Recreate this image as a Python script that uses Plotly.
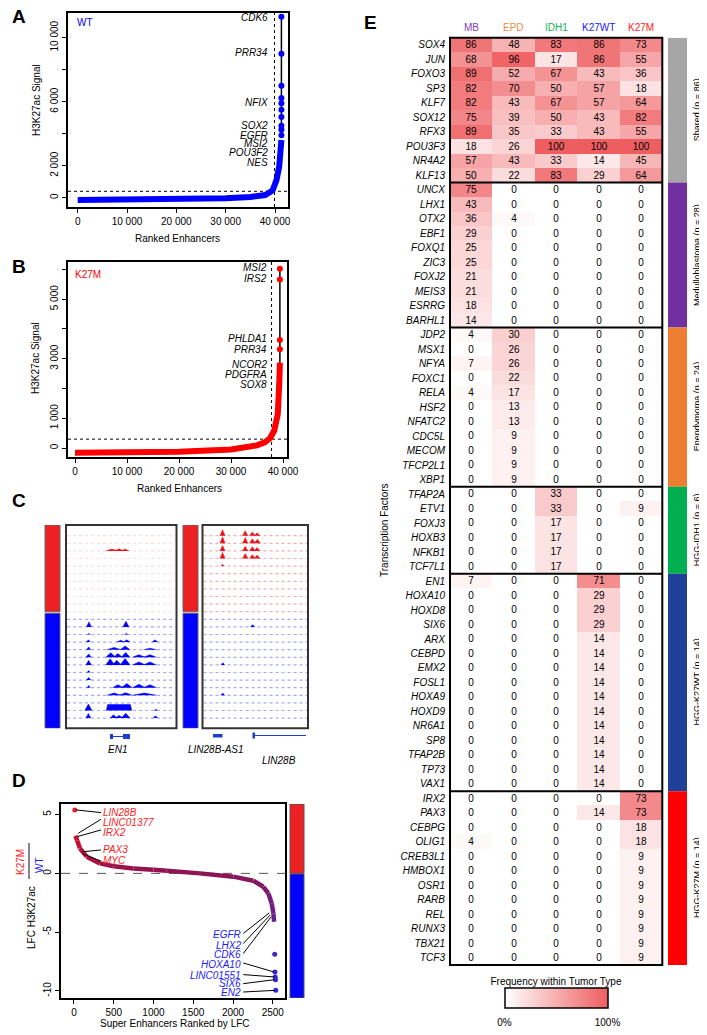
import plotly.graph_objects as go

W, H = 707, 1035
OFF = 8  # page body margin of the browser that displays the figure
FONT = "Liberation Sans, Arial, Helvetica, sans-serif"


def fx(p):
    return (p - OFF) / W


def fy(p):
    return 1 - (p - OFF) / H


# ============================ DATA ============================
# ---- Panel A : WT ranked enhancers
a_rank = [0, 10000, 20000, 30000, 35000, 38000, 39500, 40300, 40850, 41200, 41300]
a_signal = [-150, -130, -100, -40, 40, 170, 450, 1100, 1950, 3200, 3600]
a_top_rank = [41300, 41300, 41300, 41300, 41300, 41300, 41300, 41300, 41300, 41300]
a_top_signal = [3900, 4250, 4500, 5050, 5500, 5900, 6230, 7000, 9000, 11300]
a_genes = ["CDK6", "PRR34", "NFIX", "SOX2", "EGFR", "MSI2", "POU3F2", "NES"]
a_cutoff_rank = 39900
a_cutoff_signal = 400

# ---- Panel B : K27M ranked enhancers
b_rank = [0, 10000, 20000, 30000, 35000, 36500, 37500, 38300, 39000, 39300, 39400]
b_signal = [-160, -150, -125, -45, 90, 190, 330, 580, 1140, 2270, 2870]
b_top_rank = [39400, 39400, 39400, 39400]
b_top_signal = [3320, 3630, 5660, 6020]
b_genes = ["MSI2", "IRS2", "PHLDA1", "PRR34", "NCOR2", "PDGFRA", "SOX8"]
b_cutoff_rank = 37800
b_cutoff_signal = 300

# ---- Panel C : browser tracks (11 K27M tracks, 14 WT tracks)
c_track_group = ["K27M"] * 11 + ["WT"] * 14
# peaks: (track, start, end, height) ; x in locus %, height in track units
c_en1_peaks = [
    (2, 36, 47, 0.25), (2, 44, 52, 0.3), (2, 50, 57, 0.25),
    (12, 18.5, 23, 0.65), (12, 51.5, 57, 0.75),
    (13, 19.5, 22, 0.15), (13, 53, 56, 0.15),
    (14, 18.5, 22, 0.3), (14, 46, 53, 0.25), (14, 52, 58, 0.3), (14, 78, 83, 0.3),
    (15, 18.5, 22.5, 0.35), (15, 37, 50, 0.3), (15, 49, 58, 0.5), (15, 70, 82, 0.2),
    (16, 18, 23, 0.45), (16, 36, 45, 0.6), (16, 43, 51, 0.5), (16, 50, 58, 0.65),
    (16, 60, 72, 0.35), (16, 70, 82, 0.35),
    (17, 18, 23, 0.6), (17, 36, 44, 0.8), (17, 42, 50, 0.6), (17, 49, 58, 0.85),
    (17, 60, 72, 0.4), (17, 70, 82, 0.4),
    (18, 19, 22, 0.25),
    (19, 18.5, 22.5, 0.35),
    (20, 19, 22, 0.3), (20, 42, 52, 0.4), (20, 50, 60, 0.55), (20, 60, 72, 0.45), (20, 70, 82, 0.4),
    (21, 37, 50, 0.3), (21, 48, 60, 0.35), (21, 60, 82, 0.3),
    (23, 17, 23.5, 0.85), (23, 80, 83, 0.2),
    (24, 18, 22.5, 0.6), (24, 40, 46, 0.45), (24, 44, 52, 0.35), (24, 50, 58, 0.65), (24, 79, 83, 0.3),
]
c_en1_blocks = [(23, 36.5, 59.5, 0.8)]
c_lin28b_peaks = [
    (0, 16.5, 21.5, 0.8), (0, 38, 43, 0.65), (0, 44.5, 50, 0.5), (0, 49, 54.5, 0.4),
    (1, 16.5, 21.5, 0.85), (1, 38, 43, 0.75), (1, 44.5, 50, 0.6), (1, 49, 55, 0.55),
    (2, 16.5, 21.5, 0.7), (2, 38, 43, 0.6), (2, 44.5, 50, 0.55), (2, 49, 54.5, 0.45),
    (3, 16.5, 21.5, 0.8), (3, 38, 43, 0.65), (3, 44.5, 50, 0.5), (3, 49, 54.5, 0.45),
    (4, 17.5, 20.5, 0.25),
    (12, 45.5, 49.5, 0.3), (17, 17.5, 21, 0.3), (21, 17.5, 21, 0.3),
]
c_lin28b_blocks = []
c_gene_labels = ["EN1", "LIN28B-AS1", "LIN28B"]

# ---- Panel D : super-enhancers ranked by LFC
d_rank = [20, 40, 75, 160, 327, 500, 746, 1000, 1166, 1585, 2004, 2256, 2382, 2445, 2487, 2508, 2517]
d_lfc = [3.2, 2.8, 2.13, 1.42, 0.85, 0.6, 0.42, 0.3, 0.22, 0.0, -0.28, -0.63, -1.14, -1.7, -2.56, -3.4, -4.12]
d_top_rank = [10]
d_top_lfc = [5.4]
d_low_rank = [2525, 2528, 2531, 2534, 2537]
d_low_lfc = [-6.88, -8.39, -8.81, -9.04, -9.95]
d_up_genes = ["LIN28B", "LINC01377", "IRX2", "PAX3", "MYC"]
d_up_gene_rank = [10, 42, 25, 97, 97]
d_up_gene_lfc = [5.4, 3.41, 3.12, 1.84, 1.65]
d_down_genes = ["EGFR", "LHX2", "CDK6", "HOXA10", "LINC01551", "SIX6", "EN2"]
d_down_gene_rank = [2465, 2474, 2487, 2525, 2528, 2531, 2537]
d_down_gene_lfc = [-3.36, -3.55, -3.7, -8.39, -8.81, -9.04, -9.95]

# ---- Panel E : TF frequency heatmap
e_tumor_types = ["MB", "EPD", "IDH1", "K27WT", "K27M"]
e_groups = ["Shared (n = 86)", "Medulloblastoma (n = 28)", "Ependymoma (n = 24)",
            "HGG-IDH1 (n = 6)", "HGG-K27WT (n = 14)", "HGG-K27M (n = 14)"]
e_group_sizes = [10, 10, 11, 6, 15, 12]
e_tfs = ["SOX4", "JUN", "FOXO3", "SP3", "KLF7", "SOX12", "RFX3", "POU3F3", "NR4A2", "KLF13",
         "UNCX", "LHX1", "OTX2", "EBF1", "FOXQ1", "ZIC3", "FOXJ2", "MEIS3", "ESRRG", "BARHL1",
         "JDP2", "MSX1", "NFYA", "FOXC1", "RELA", "HSF2", "NFATC2", "CDC5L", "MECOM", "TFCP2L1", "XBP1",
         "TFAP2A", "ETV1", "FOXJ3", "HOXB3", "NFKB1", "TCF7L1",
         "EN1", "HOXA10", "HOXD8", "SIX6", "ARX", "CEBPD", "EMX2", "FOSL1", "HOXA9", "HOXD9",
         "NR6A1", "SP8", "TFAP2B", "TP73", "VAX1",
         "IRX2", "PAX3", "CEBPG", "OLIG1", "CREB3L1", "HMBOX1", "OSR1", "RARB", "REL", "RUNX3", "TBX21", "TCF3"]
e_mb = [86, 68, 89, 82, 82, 75, 89, 18, 57, 50,
        75, 43, 36, 29, 25, 25, 21, 21, 18, 14,
        4, 0, 7, 0, 4, 0, 0, 0, 0, 0, 0,
        0, 0, 0, 0, 0, 0,
        7, 0, 0, 0, 0, 0, 0, 0, 0, 0, 0, 0, 0, 0, 0,
        0, 0, 0, 4, 0, 0, 0, 0, 0, 0, 0, 0]
e_epd = [48, 96, 52, 70, 43, 39, 35, 26, 43, 22,
         0, 0, 4, 0, 0, 0, 0, 0, 0, 0,
         30, 26, 26, 22, 17, 13, 13, 9, 9, 9, 9,
         0, 0, 0, 0, 0, 0,
         0, 0, 0, 0, 0, 0, 0, 0, 0, 0, 0, 0, 0, 0, 0,
         0, 0, 0, 0, 0, 0, 0, 0, 0, 0, 0, 0]
e_idh1 = [83, 17, 67, 50, 67, 50, 33, 100, 33, 83,
          0, 0, 0, 0, 0, 0, 0, 0, 0, 0,
          0, 0, 0, 0, 0, 0, 0, 0, 0, 0, 0,
          33, 33, 17, 17, 17, 17,
          0, 0, 0, 0, 0, 0, 0, 0, 0, 0, 0, 0, 0, 0, 0,
          0, 0, 0, 0, 0, 0, 0, 0, 0, 0, 0, 0]
e_k27wt = [86, 86, 43, 57, 57, 43, 43, 100, 14, 29,
           0, 0, 0, 0, 0, 0, 0, 0, 0, 0,
           0, 0, 0, 0, 0, 0, 0, 0, 0, 0, 0,
           0, 0, 0, 0, 0, 0,
           71, 29, 29, 29, 14, 14, 14, 14, 14, 14, 14, 14, 14, 14, 14,
           0, 14, 0, 0, 0, 0, 0, 0, 0, 0, 0, 0]
e_k27m = [73, 55, 36, 18, 64, 82, 55, 100, 45, 64,
          0, 0, 0, 0, 0, 0, 0, 0, 0, 0,
          0, 0, 0, 0, 0, 0, 0, 0, 0, 0, 0,
          0, 9, 0, 0, 0, 0,
          0, 0, 0, 0, 0, 0, 0, 0, 0, 0, 0, 0, 0, 0, 0,
          73, 73, 18, 18, 9, 9, 9, 9, 9, 9, 9, 9]

# ============================ STYLE ============================
BLUE = "#0000ff"
RED = "#ff0000"
TRACK_RED = "#e8161c"
TRACK_BLUE = "#0000ff"
header_colors = ["#8040c0", "#f08c48", "#20b050", "#2020ff", "#ff2020"]
group_colors = ["#a6a6a6", "#7030a0", "#ed7d31", "#00b050", "#203f99", "#ff0000"]
d_color_stops = [(-10.0, (40, 40, 225)), (-4.0, (105, 30, 150)), (-1.5, (125, 25, 110)),
                 (0.0, (140, 20, 85)), (1.5, (180, 15, 60)), (3.0, (205, 15, 45)), (5.5, (235, 25, 35))]


def d_color(v):
    if v <= d_color_stops[0][0]:
        c = d_color_stops[0][1]
    elif v >= d_color_stops[-1][0]:
        c = d_color_stops[-1][1]
    else:
        for (v0, c0), (v1, c1) in zip(d_color_stops[:-1], d_color_stops[1:]):
            if v0 <= v <= v1:
                t = (v - v0) / (v1 - v0)
                c = tuple(c0[k] + (c1[k] - c0[k]) * t for k in range(3))
                break
    return "rgb(%d,%d,%d)" % tuple(int(round(x)) for x in c)


fig = go.Figure()
annotations = []
shapes = []


def ann(**kw):
    kw.setdefault("showarrow", False)
    kw.setdefault("xanchor", "center")
    kw.setdefault("yanchor", "middle")
    kw.setdefault("font", dict(family=FONT, size=10, color="black"))
    annotations.append(kw)


def pann(text, x, y, **kw):
    ann(text=text, x=fx(x), y=fy(y), xref="paper", yref="paper", **kw)


AX_COMMON = dict(showgrid=False, zeroline=False, showline=True, mirror=True, linecolor="black",
                 linewidth=1.5, ticks="outside", ticklen=4, tickwidth=1, tickcolor="black",
                 automargin=False, tickfont=dict(family=FONT, size=10, color="black"))
HIDDEN = dict(visible=False, showgrid=False, zeroline=False, automargin=False)

# ---------------- Panel A ----------------
fig.add_trace(go.Scatter(x=a_rank, y=a_signal, mode="lines", line=dict(color=BLUE, width=6),
                         xaxis="x", yaxis="y", hoverinfo="skip"))
fig.add_trace(go.Scatter(x=a_top_rank, y=a_top_signal, mode="lines+markers",
                         line=dict(color="black", width=1.5), marker=dict(color=BLUE, size=6),
                         xaxis="x", yaxis="y", hoverinfo="skip"))
a_label_y = [11230, 9080, 5920, 4500, 3875, 3375, 2830, 2170]
for g, yv in zip(a_genes, a_label_y):
    ann(x=38950, y=yv, xref="x", yref="y", text="<i>%s</i>" % g, xanchor="right")
pann("WT", 75, 23, xanchor="left", font=dict(family=FONT, size=10, color=BLUE))
shapes.append(dict(type="line", xref="x", yref="y domain", x0=a_cutoff_rank, x1=a_cutoff_rank, y0=0, y1=1,
                   line=dict(color="black", width=1, dash="dot"), layer="below"))
shapes.append(dict(type="line", xref="x domain", yref="y", x0=0, x1=1, y0=a_cutoff_signal, y1=a_cutoff_signal,
                   line=dict(color="black", width=1, dash="dot"), layer="below"))

# ---------------- Panel B ----------------
fig.add_trace(go.Scatter(x=b_rank, y=b_signal, mode="lines", line=dict(color=RED, width=6),
                         xaxis="x2", yaxis="y2", hoverinfo="skip"))
fig.add_trace(go.Scatter(x=b_top_rank + [b_rank[-1]], y=b_top_signal[::-1] + [b_signal[-1]], mode="lines",
                         line=dict(color="black", width=1.5), xaxis="x2", yaxis="y2", hoverinfo="skip"))
fig.add_trace(go.Scatter(x=b_top_rank, y=b_top_signal, mode="markers", marker=dict(color=RED, size=6),
                         xaxis="x2", yaxis="y2", hoverinfo="skip"))
b_label_y = [6060, 5690, 3680, 3320, 2810, 2470, 2120]
for g, yv in zip(b_genes, b_label_y):
    ann(x=37350, y=yv, xref="x2", yref="y2", text="<i>%s</i>" % g, xanchor="right")
pann("K27M", 73, 274, xanchor="left", font=dict(family=FONT, size=10, color=RED))
shapes.append(dict(type="line", xref="x2", yref="y2 domain", x0=b_cutoff_rank, x1=b_cutoff_rank, y0=0, y1=1,
                   line=dict(color="black", width=1, dash="dot"), layer="below"))
shapes.append(dict(type="line", xref="x2 domain", yref="y2", x0=0, x1=1, y0=b_cutoff_signal, y1=b_cutoff_signal,
                   line=dict(color="black", width=1, dash="dot"), layer="below"))

# ---------------- Panel C ----------------
n_red = c_track_group.count("K27M")


def poly_xy(peaks, blocks, want_red):
    xs, ys = [], []
    for trk, s, e, h in peaks:
        if (c_track_group[trk] == "K27M") != want_red:
            continue
        b = -trk
        xs += [s, (s + e) / 2, e, None]
        ys += [b, b + h, b, None]
    for trk, s, e, h in blocks:
        if (c_track_group[trk] == "K27M") != want_red:
            continue
        b = -trk
        xs += [s, s + 1.2, e - 1.2, e, None]
        ys += [b, b + h, b + h, b, None]
    return xs, ys


for xa, ya, peaks, blocks, red_op in [("x3", "y3", c_en1_peaks, c_en1_blocks, 0.15),
                                       ("x4", "y4", c_lin28b_peaks, c_lin28b_blocks, 0.35)]:
    for want_red, col, op in [(True, "232,22,28", red_op), (False, "0,0,255", 0.35)]:
        bx, by = [], []
        for i, g in enumerate(c_track_group):
            if (g == "K27M") == want_red:
                bx += [1, 99, None]
                by += [-i, -i, None]
        fig.add_trace(go.Scatter(x=bx, y=by, mode="lines", xaxis=xa, yaxis=ya, hoverinfo="skip",
                                 line=dict(color="rgba(%s,%s)" % (col, op), width=1.2, dash="dot")))
    for want_red, col in [(True, TRACK_RED), (False, TRACK_BLUE)]:
        px_, py_ = poly_xy(peaks, blocks, want_red)
        if px_:
            fig.add_trace(go.Scatter(x=px_, y=py_, mode="lines", fill="toself", fillcolor=col,
                                     line=dict(color=col, width=0.5), xaxis=xa, yaxis=ya, hoverinfo="skip"))
    shapes.append(dict(type="rect", xref=xa + " domain", yref=ya + " domain", x0=0, x1=1, y0=0, y1=1,
                       line=dict(color="#333333", width=2)))

split = -(n_red - 1)
for bx0, bx1 in [(45, 60), (183, 198)]:
    shapes.append(dict(type="rect", xref="paper", yref="y3", x0=fx(bx0), x1=fx(bx1), y0=split, y1=1.41,
                       fillcolor="#ed2024", line=dict(color="#666666", width=1)))
    shapes.append(dict(type="rect", xref="paper", yref="y3", x0=fx(bx0), x1=fx(bx1), y0=-25.34, y1=split - 0.2,
                       fillcolor="#0000ff", line=dict(color="#666666", width=1)))

GENE_BLUE = "#1a3fd0"
shapes += [
    dict(type="line", xref="paper", yref="paper", x0=fx(110), x1=fx(130), y0=fy(736.5), y1=fy(736.5),
         line=dict(color=GENE_BLUE, width=1)),
    dict(type="rect", xref="paper", yref="paper", x0=fx(110), x1=fx(113), y0=fy(739), y1=fy(734),
         fillcolor=GENE_BLUE, line=dict(width=0)),
    dict(type="rect", xref="paper", yref="paper", x0=fx(123), x1=fx(130), y0=fy(739), y1=fy(734),
         fillcolor=GENE_BLUE, line=dict(width=0)),
    dict(type="rect", xref="paper", yref="paper", x0=fx(213), x1=fx(222.5), y0=fy(737.5), y1=fy(734),
         fillcolor=GENE_BLUE, line=dict(width=0)),
    dict(type="line", xref="paper", yref="paper", x0=fx(253), x1=fx(306), y0=fy(735.5), y1=fy(735.5),
         line=dict(color=GENE_BLUE, width=1)),
    dict(type="rect", xref="paper", yref="paper", x0=fx(252.5), x1=fx(255), y0=fy(738.5), y1=fy(732.5),
         fillcolor=GENE_BLUE, line=dict(width=0)),
]
for txt, gx, gy in zip(c_gene_labels, [117, 216, 279], [749, 749, 761]):
    pann("<i>%s</i>" % txt, gx, gy)

# ---------------- Panel D ----------------
for i in range(len(d_rank) - 1):
    v = (d_lfc[i] + d_lfc[i + 1]) / 2
    fig.add_trace(go.Scatter(x=d_rank[i:i + 2], y=d_lfc[i:i + 2], mode="lines",
                             line=dict(color=d_color(v), width=4.5), xaxis="x5", yaxis="y5", hoverinfo="skip"))
fig.add_trace(go.Scatter(x=d_top_rank, y=d_top_lfc, mode="markers", marker=dict(color="#e8202a", size=5),
                         xaxis="x5", yaxis="y5", hoverinfo="skip"))
fig.add_trace(go.Scatter(x=d_low_rank, y=d_low_lfc, mode="markers",
                         marker=dict(color=[d_color(v) for v in d_low_lfc], size=5),
                         xaxis="x5", yaxis="y5", hoverinfo="skip"))
d_up_label_rank = 348
d_up_label_lfc = [5.17, 4.35, 3.5, 1.99, 1.12]
d_up_line_end = [5.17, 4.6, 3.69, 1.99, 1.05]
d_down_label_rank = 2109
d_down_label_lfc = [-5.17, -6.11, -6.9, -7.76, -8.67, -9.33, -10.1]
d_down_line_end = [-5.11, -5.97, -6.82, -7.62, -8.61, -9.38, -10.09]
lx, ly = [], []
for r, v, e in zip(d_up_gene_rank, d_up_gene_lfc, d_up_line_end):
    lx += [r + 12, d_up_label_rank - 8, None]
    ly += [v, e, None]
for r, v, e in zip(d_down_gene_rank, d_down_gene_lfc, d_down_line_end):
    lx += [r - 8, d_down_label_rank + 20, None]
    ly += [v, e, None]
fig.add_trace(go.Scatter(x=lx, y=ly, mode="lines", line=dict(color="black", width=1),
                         xaxis="x5", yaxis="y5", hoverinfo="skip"))
for g, yv in zip(d_up_genes, d_up_label_lfc):
    ann(x=d_up_label_rank - 2, y=yv, xref="x5", yref="y5", text="<i>%s</i>" % g, xanchor="left",
        font=dict(family=FONT, size=10, color="#ff2020"))
for g, yv in zip(d_down_genes, d_down_label_lfc):
    ann(x=d_down_label_rank + 18, y=yv, xref="x5", yref="y5", text="<i>%s</i>" % g, xanchor="right",
        font=dict(family=FONT, size=10, color="#2020ff"))
shapes.append(dict(type="line", xref="x5 domain", yref="y5", x0=0, x1=1, y0=0, y1=0,
                   line=dict(color="#555555", width=1, dash="dash"), layer="below"))
shapes.append(dict(type="rect", xref="paper", yref="y5", x0=fx(290), x1=fx(304), y0=0, y1=5.9,
                   fillcolor="#ed2024", line=dict(color="#555555", width=1)))
shapes.append(dict(type="rect", xref="paper", yref="y5", x0=fx(290), x1=fx(304), y0=-10.6, y1=-0.05,
                   fillcolor="#0000ff", line=dict(color="#555555", width=1)))

# ---------------- Panel E ----------------
cols = [e_mb, e_epd, e_idh1, e_k27wt, e_k27m]
z = [[cols[j][i] for j in range(5)] for i in range(len(e_tfs))]
txt = [[str(cols[j][i]) for j in range(5)] for i in range(len(e_tfs))]
rows = list(range(len(e_tfs)))
fig.add_trace(go.Heatmap(
    z=z, x=list(range(5)), y=rows, text=txt, texttemplate="%{text}",
    textfont=dict(family=FONT, size=10, color="black"),
    colorscale=[[0, "#ffffff"], [1, "rgb(238,94,96)"]], zmin=0, zmax=100,
    xaxis="x6", yaxis="y6", hoverinfo="skip",
    colorbar=dict(orientation="h", x=fx(556), xanchor="center", y=fy(977), yanchor="top",
                  len=103, lenmode="pixels", thickness=20, thicknessmode="pixels",
                  title=dict(text="Frequency within Tumor Type", side="top",
                             font=dict(family=FONT, size=10, color="black")),
                  outlinewidth=1.5, outlinecolor="black", tickvals=[0, 100], ticktext=["0%", "100%"],
                  ticks="outside", ticklen=6, tickcolor="white", xpad=0, ypad=0,
                  tickfont=dict(family=FONT, size=10, color="black")),
))
for j, (t, c) in enumerate(zip(e_tumor_types, header_colors)):
    ann(x=j, y=fy(27.7), xref="x6", yref="paper", text=t, font=dict(family=FONT, size=10, color=c))
start = 0
for k, (gname, n, gc) in enumerate(zip(e_groups, e_group_sizes, group_colors)):
    y0, y1 = start - 0.5, start + n - 0.5
    if k > 0:
        shapes.append(dict(type="line", xref="x6 domain", yref="y6", x0=0, x1=1, y0=y0, y1=y0,
                           line=dict(color="black", width=2)))
    shapes.append(dict(type="rect", xref="paper", yref="y6", x0=fx(668), x1=fx(687), y0=y0, y1=y1,
                       fillcolor=gc, line=dict(width=0)))
    ann(x=fx(697), y=(y0 + y1) / 2, xref="paper", yref="y6", text=gname, textangle=-90,
        font=dict(family=FONT, size=9, color="black"))
    start += n
shapes.append(dict(type="rect", xref="x6 domain", yref="y6 domain", x0=0, x1=1, y0=0, y1=1,
                   line=dict(color="black", width=2)))
pann("Transcription Factors", 384, 530, textangle=-90)

# ---------------- titles / letters ----------------
for L, lx_, ly_ in [("A", 9.5, 17), ("B", 9.5, 266), ("C", 9.5, 500), ("D", 9.5, 780), ("E", 362, 23)]:
    pann("<b>%s</b>" % L, lx_, ly_, xanchor="left", font=dict(family=FONT, size=19, color="black"))
for t, x_, y_, ang in [("H3K27ac Signal", 36, 100, -90), ("Ranked Enhancers", 177, 238, 0),
                       ("H3K27ac Signal", 36, 358, -90), ("Ranked Enhancers", 179, 489, 0),
                       ("LFC H3K27ac", 31, 918, -90), ("Super Enhancers Ranked by LFC", 175, 1023, 0)]:
    pann(t, x_, y_, textangle=ang)
pann("K27M", 20, 862, textangle=-90, font=dict(family=FONT, size=10, color="#ff2020"))
pann("WT", 39, 865, textangle=-90, font=dict(family=FONT, size=10, color="#2020ff"))
shapes.append(dict(type="line", xref="paper", yref="paper", x0=fx(29), x1=fx(29), y0=fy(843), y1=fy(879),
                   line=dict(color="#333333", width=1.2)))

# ---------------- layout ----------------
fig.update_layout(
    width=W, height=H, margin=dict(l=0, r=0, t=0, b=0, autoexpand=False), showlegend=False,
    paper_bgcolor="white", plot_bgcolor="white",
    font=dict(family=FONT, size=10, color="black"),
    annotations=annotations, shapes=shapes,
    xaxis=dict(domain=[fx(68), fx(288)], anchor="y", range=[-1966, 42636],
               tickvals=[0, 10000, 20000, 30000, 40000],
               ticktext=["0", "10 000", "20 000", "30 000", "40 000"], **AX_COMMON),
    yaxis=dict(domain=[fy(207), fy(13)], anchor="x", range=[-580, 11540], tickangle=-90,
               tickvals=[0, 2000, 4000, 6000, 8000, 10000],
               ticktext=["0", "2 000", "", "6 000", "", "10 000"], **AX_COMMON),
    xaxis2=dict(domain=[fx(68), fx(287)], anchor="y2", range=[-1346, 40769],
                tickvals=[0, 10000, 20000, 30000, 40000],
                ticktext=["0", "10 000", "20 000", "30 000", "40 000"], **AX_COMMON),
    yaxis2=dict(domain=[fy(457), fy(262)], anchor="x2", range=[-300, 6250], tickangle=-90,
                tickvals=[0, 1000, 2000, 3000, 4000, 5000, 6000],
                ticktext=["0", "1 000", "", "3 000", "", "5 000", ""], **AX_COMMON),
    xaxis3=dict(domain=[fx(66), fx(176.5)], anchor="y3", range=[0, 100], **HIDDEN),
    yaxis3=dict(domain=[fy(728.3), fy(525)], anchor="x3", range=[-25.34, 1.41], **HIDDEN),
    xaxis4=dict(domain=[fx(202.5), fx(308)], anchor="y4", range=[0, 100], **HIDDEN),
    yaxis4=dict(domain=[fy(728.3), fy(525)], anchor="x4", range=[-25.34, 1.41], **HIDDEN),
    xaxis5=dict(domain=[fx(61), fx(285)], anchor="y5", range=[-163, 2654],
                tickvals=[0, 500, 1000, 1500, 2000, 2500], **AX_COMMON),
    yaxis5=dict(domain=[fy(998), fy(804)], anchor="x5", range=[-10.6, 5.9], tickangle=-90,
                tickvals=[-10, -5, 0, 5], ticktext=["-10", "-5", "0", "5"], **AX_COMMON),
    xaxis6=dict(domain=[fx(450), fx(662.3)], anchor="y6", range=[-0.5, 4.5], showticklabels=False,
                showgrid=False, zeroline=False, ticks="", automargin=False),
    yaxis6=dict(domain=[fy(965), fy(37.7)], anchor="x6", range=[len(e_tfs) - 0.5, -0.5],
                tickvals=rows, ticktext=["<i>%s</i>" % t for t in e_tfs], ticks="",
                showgrid=False, zeroline=False, ticklabelstandoff=4, automargin=False,
                tickfont=dict(family=FONT, size=10, color="black")),
)

fig.write_html("out.html")
